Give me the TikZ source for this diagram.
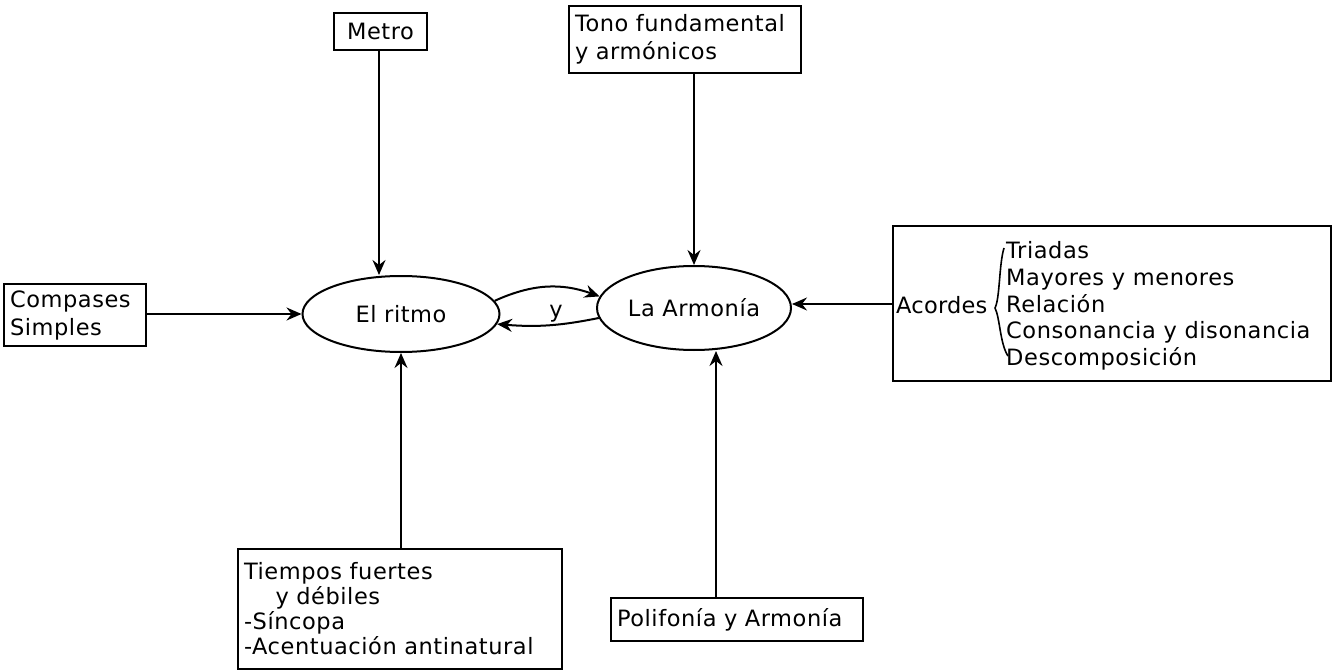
\documentclass[tikz,border=0pt]{standalone}
\usepackage{fontspec}
\setmainfont[LetterSpace=2.5]{DejaVu Sans}
\usetikzlibrary{arrows.meta,shapes.geometric}
\tikzset{myarrow/.tip={Stealth[length=15pt,width=13pt,inset=5pt]}}
\begin{document}
\begin{tikzpicture}[x=1pt,y=-1pt,
  every node/.style={font=\fontsize{22.5}{27}\selectfont, inner sep=0pt},
  box/.style={draw, line width=2pt, anchor=north west, inner xsep=6pt, align=left},
  oval/.style={draw, ellipse, line width=2pt},
  conn/.style={line width=2pt, arrows={-myarrow}},
  brace/.style={line width=1.6pt}
]
\useasboundingbox (0,0) rectangle (1333,671);
% ellipses
\node[oval, minimum width=197, minimum height=76] (ritmo) at (401,314) {El ritmo};
\node[oval, minimum width=194, minimum height=84] (armonia) at (694,308) {La Armonía};
% boxes
\node[box, text width=81, minimum height=37, align=center] (metro) at (333,12) {Metro};
\node[box, text width=220, minimum height=67] (tono) at (568,5) {Tono fundamental\\[1pt]y armónicos};
\node[box, text width=130, minimum height=62] (compases) at (3,283) {Compases\\[1pt]Simples};
\node[box, text width=426, minimum height=155] (acbox) at (892,225) {};
\node[anchor=west, font=\fontsize{22.5}{27}\selectfont\addfontfeatures{LetterSpace=1}] (acordes) at (896,305) {Acordes};
\node[anchor=west, align=left, font=\fontsize{22.5}{26.7}\selectfont] (items) at (1006,306) {Triadas\\Mayores y menores\\Relación\\Consonancia y disonancia\\Descomposición};
\draw[brace] (1004,248) .. controls (999,264) and (1000,298) .. (995,308) .. controls (1000,318) and (1000,344) .. (1008,356);
\node[box, text width=312, minimum height=120, font=\fontsize{22.5}{25}\selectfont] (tiempos) at (237,548) {Tiempos fuertes\\\hspace{1.4em}y débiles\\-Síncopa\\-Acentuación antinatural};
\node[box, text width=240, minimum height=43] (polifonia) at (610,597) {Polifonía y Armonía};
% connectors
\coordinate (px) at (716,0);
\coordinate (mx) at (379,0);
\draw[conn] (metro.south -| mx) -- (ritmo.north -| mx);
\draw[conn] (tono.south -| armonia.north) -- (armonia.north);
\draw[conn] (compases.east |- ritmo.west) -- (ritmo.west);
\draw[conn] (acbox.west |- armonia.east) ++(0,-4) coordinate (a1) -- (armonia.east |- a1);
\draw[conn] (tiempos.north -| ritmo.south) -- (ritmo.south);
\draw[conn] (polifonia.north -| px) -- (armonia.south -| px);
\draw[conn] (ritmo.8) to[bend left=22] (armonia.173);
\draw[conn] (armonia.186) to[bend left=8] (ritmo.-6);
\node (y) at (556,314) {y};
\end{tikzpicture}
\end{document}
